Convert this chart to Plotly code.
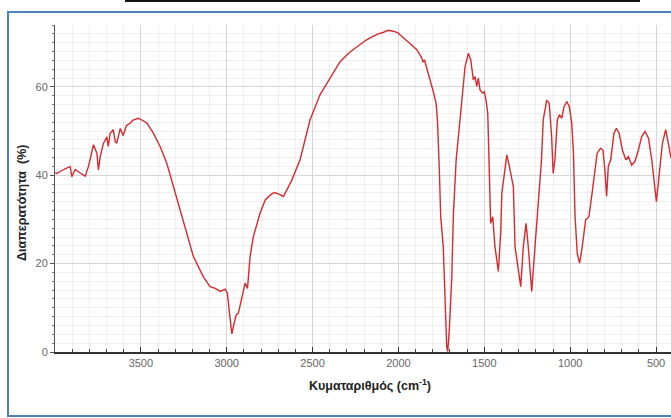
import plotly.graph_objects as go

# IR spectrum (wavenumber cm^-1, transmittance %)
wavenumber = [3998, 3989, 3950, 3912, 3902, 3882, 3853, 3824, 3805, 3776, 3756, 3747, 3737,
              3718, 3698, 3690, 3679, 3661, 3649, 3640, 3620, 3603, 3585, 3562, 3545, 3516,
              3494, 3465, 3428, 3388, 3349, 3310, 3271, 3252, 3194, 3136, 3097, 3067, 3038,
              3009, 2996, 2984, 2970, 2957, 2945, 2932, 2912, 2893, 2879, 2864, 2845, 2806,
              2776, 2747, 2724, 2699, 2670, 2650, 2621, 2573, 2515, 2457, 2398, 2340, 2282,
              2223, 2188, 2154, 2119, 2090, 2060, 2031, 2002, 1991, 1933, 1893, 1864, 1857,
              1848, 1835, 1816, 1797, 1781, 1773, 1762, 1754, 1739, 1719, 1713, 1704, 1690,
              1680, 1670, 1664, 1651, 1632, 1612, 1593, 1579, 1564, 1554, 1544, 1535, 1525,
              1509, 1500, 1490, 1480, 1473, 1467, 1463, 1451, 1438, 1418, 1404, 1398, 1379,
              1369, 1354, 1340, 1331, 1321, 1302, 1288, 1273, 1257, 1244, 1224, 1205, 1191,
              1176, 1167, 1157, 1137, 1122, 1108, 1099, 1089, 1075, 1063, 1049, 1036, 1020,
              1005, 991, 981, 972, 959, 945, 930, 910, 891, 875, 862, 843, 823, 809, 798,
              788, 778, 764, 745, 731, 715, 696, 676, 661, 642, 623, 603, 584, 564, 544,
              525, 512, 498, 483, 463, 444, 434, 424, 413, 400]
transmittance = [40.6, 40.4, 41.3, 42.0, 39.7, 41.3, 40.5, 39.8, 42.0, 46.9, 45.0, 41.2, 44.2,
                 47.2, 48.7, 46.5, 49.5, 50.3, 47.5, 47.3, 50.6, 49.0, 51.2, 51.8, 52.5, 52.9,
                 52.5, 51.8, 49.6, 46.5, 42.7, 37.4, 32.1, 29.1, 21.6, 17.0, 14.8, 14.4, 13.7,
                 14.2, 13.3, 8.8, 4.1, 6.5, 8.4, 8.8, 12.5, 15.6, 14.4, 21.6, 26.1, 31.4,
                 34.4, 35.5, 36.1, 35.8, 35.2, 36.7, 38.9, 43.5, 52.5, 58.2, 62.0, 65.7, 67.9,
                 69.5, 70.6, 71.3, 72.0, 72.3, 72.8, 72.6, 72.2, 71.8, 69.9, 68.4, 66.5, 65.7,
                 66.0, 64.2, 62.0, 58.9, 56.3, 52.5, 41.2, 30.6, 23.8, 1.2, 0.1, 5.0, 16.3,
                 31.4, 38.9, 43.5, 48.7, 56.3, 64.6, 67.6, 66.1, 61.6, 62.3, 60.1, 62.0, 59.3,
                 58.6, 58.9, 57.0, 54.0, 45.0, 33.7, 29.1, 30.6, 23.8, 18.2, 27.6, 35.9, 42.0,
                 44.6, 42.0, 38.9, 37.4, 23.8, 18.6, 14.8, 23.8, 29.1, 23.8, 13.7, 23.8, 31.4,
                 38.9, 43.5, 52.5, 57.0, 56.3, 48.7, 40.4, 43.5, 52.5, 53.7, 52.9, 55.5, 56.7,
                 55.5, 51.8, 45.0, 31.0, 22.3, 20.1, 23.8, 29.9, 30.6, 35.2, 38.9, 45.0, 46.1,
                 45.7, 41.2, 35.2, 42.0, 43.5, 49.5, 50.6, 49.5, 45.7, 43.5, 44.2, 42.3, 43.1,
                 45.7, 48.7, 49.9, 48.4, 43.5, 38.2, 34.0, 39.7, 47.2, 50.3, 48.4, 45.7, 44.0, 43.0]

x_tick_vals = [3500, 3000, 2500, 2000, 1500, 1000, 500]
y_tick_vals = [0, 20, 40, 60]
x_title = "Κυματαριθμός (cm<sup>-1</sup>)"
y_title = "Διαπερατότητα  (%)"

fig = go.Figure()
fig.add_trace(go.Scatter(x=wavenumber, y=transmittance, mode="lines",
                         line=dict(color="#d62a2f", width=1.4), showlegend=False,
                         hoverinfo="skip"))

W, H = 671, 418
L, R, T, B = 55, 0, 25, 66
pw, ph = W - L - R, H - T - B

def px(X):
    return (X - L) / pw

def py(Y):
    return (H - B - Y) / ph

FONT = "Liberation Sans, Arial, sans-serif"

fig.update_layout(
    width=W, height=H, autosize=False,
    margin=dict(l=L, r=R, t=T, b=B, pad=0),
    paper_bgcolor="white", plot_bgcolor="white",
    font=dict(family=FONT, size=11, color="#666666"),
    hovermode=False,
    xaxis=dict(range=[4000, 413], tickvals=x_tick_vals, ticks="inside", ticklen=5,
               tickcolor="#333333", showline=True, linecolor="#333333", linewidth=1.6,
               showgrid=True, gridcolor="#d6d6d6", gridwidth=1, zeroline=False,
               automargin=False,
               tickfont=dict(size=11, color="#666666"),
               minor=dict(dtick=100, showgrid=True, gridcolor="#eeeeee", ticks="inside",
                          ticklen=3, tickcolor="#444444")),
    yaxis=dict(range=[0, 74], tickvals=y_tick_vals, ticks="outside", ticklen=4,
               tickcolor="#555555", showline=True, linecolor="#555555", linewidth=1,
               showgrid=True, gridcolor="#d6d6d6", gridwidth=1, zeroline=False,
               automargin=False,
               tickfont=dict(size=11, color="#666666"),
               minor=dict(dtick=2, showgrid=True, gridcolor="#f0f0f0", ticks="outside",
                          ticklen=2, tickcolor="#777777")),
)

fig.add_annotation(text="<b>" + x_title + "</b>", xref="paper", yref="paper",
                   x=px(370), y=py(385), showarrow=False,
                   font=dict(size=12.5, color="#222222", family=FONT),
                   xanchor="center", yanchor="middle")
fig.add_annotation(text="<b>" + y_title + "</b>", xref="paper", yref="paper",
                   x=px(22), y=py(203), showarrow=False, textangle=-90,
                   font=dict(size=12.5, color="#222222", family=FONT),
                   xanchor="center", yanchor="middle")

# blue frame and top black rule of the page
fig.add_shape(type="rect", xref="paper", yref="paper", x0=px(8), x1=px(700),
              y0=py(416), y1=py(12), line=dict(color="#4f81bd", width=2), layer="above")
fig.add_shape(type="line", xref="paper", yref="paper", x0=px(125), x1=px(640),
              y0=py(1), y1=py(1), line=dict(color="#111111", width=2), layer="above")

fig.write_html("out.html", config={"displayModeBar": False},
               post_script="document.body.style.margin='0';document.body.style.overflow='hidden';")
